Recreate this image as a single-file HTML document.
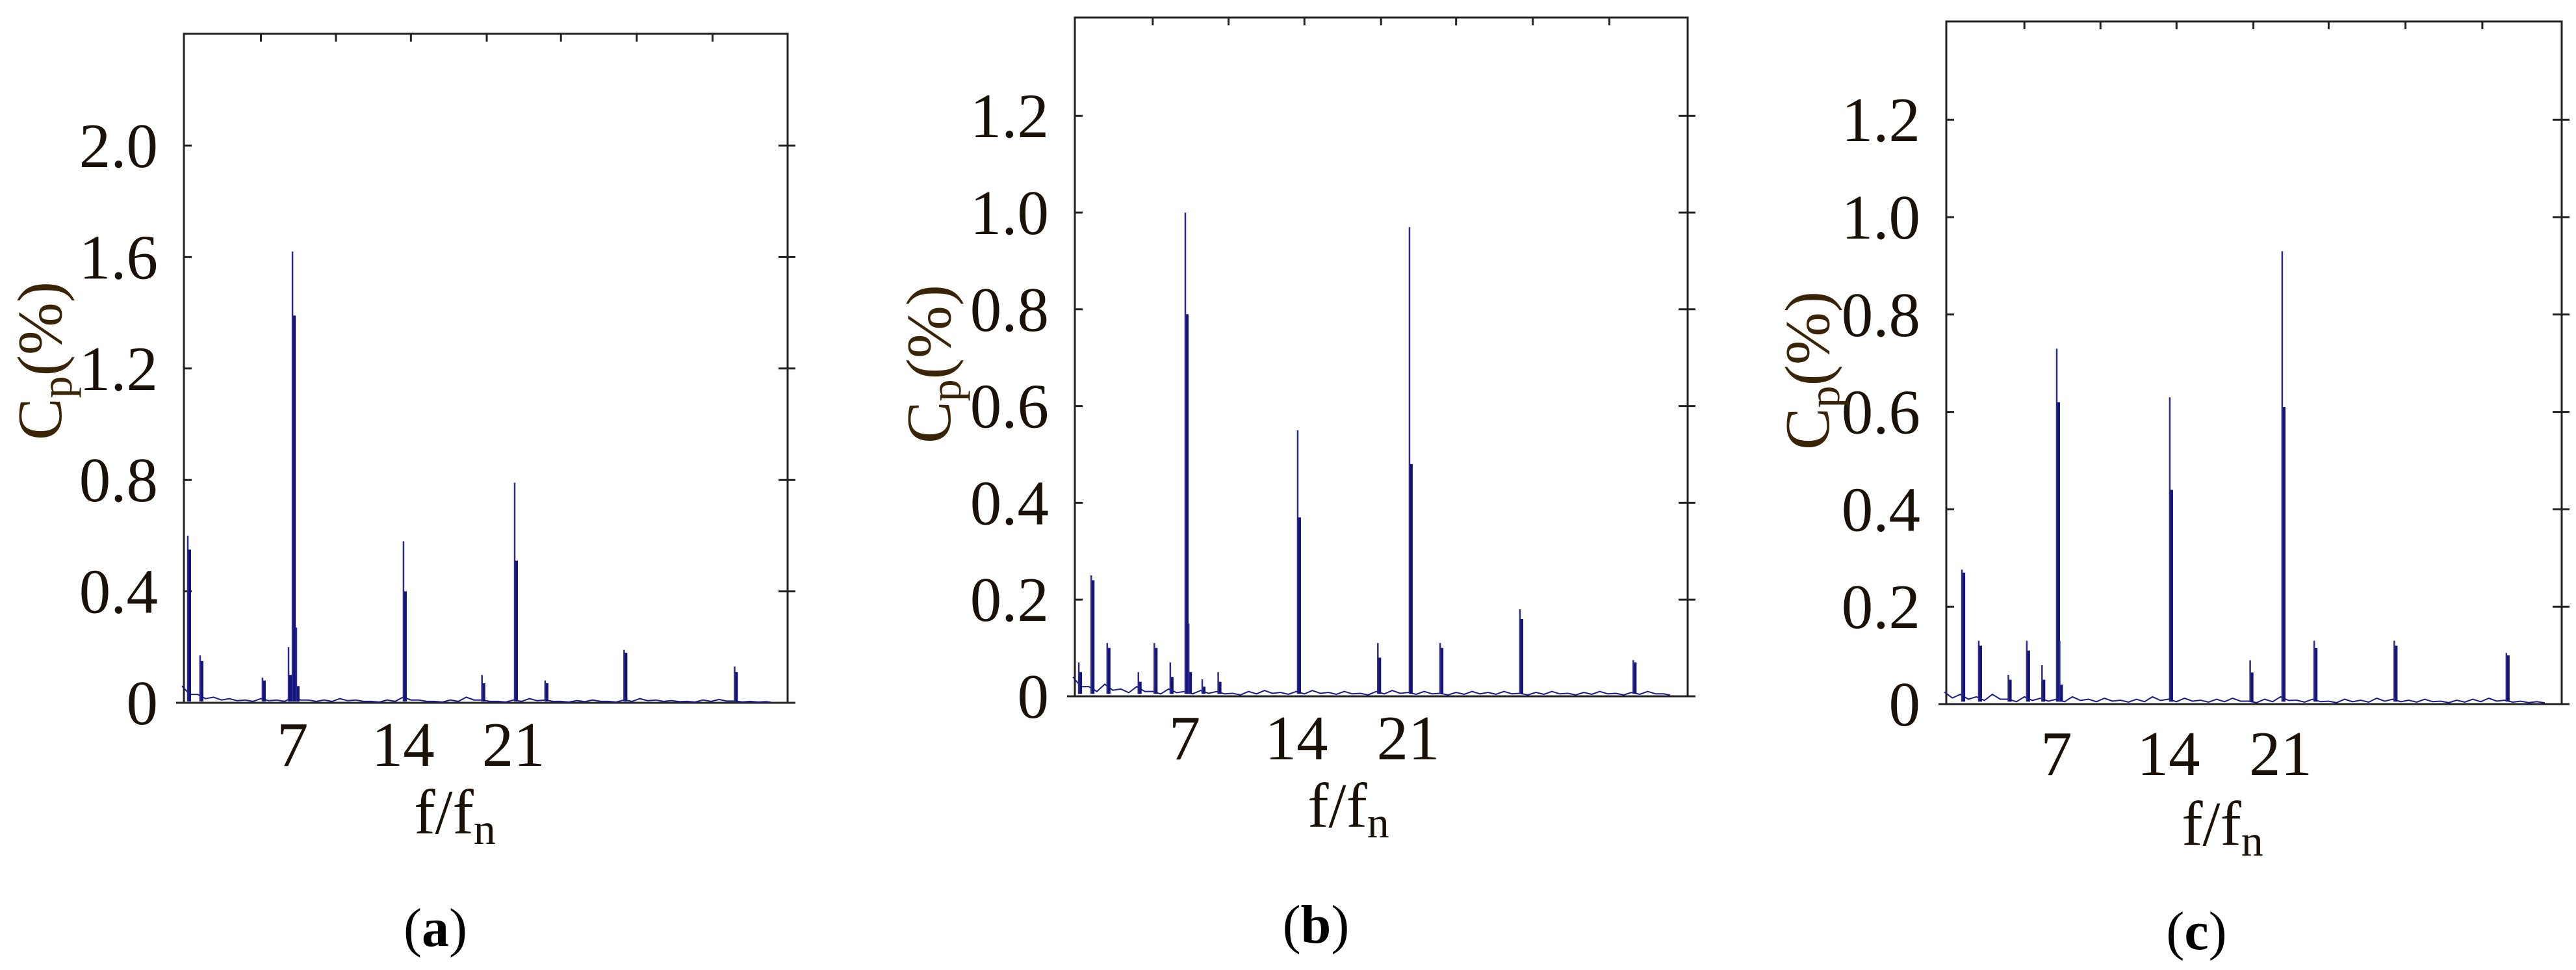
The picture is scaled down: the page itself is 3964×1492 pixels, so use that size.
<!DOCTYPE html>
<html><head><meta charset="utf-8"><style>
html,body{margin:0;padding:0;background:#fff;}
svg{display:block;}
text{font-family:"Liberation Serif",serif;fill:#1a1208;}
</style></head><body>
<svg id="fig" width="3964" height="1492" viewBox="0 0 3964 1492" xmlns="http://www.w3.org/2000/svg"></svg>
<script>
// ---- data ----
const peaksX_a = [0.37, 1.15, 5.1, 6.75, 7.0, 7.24, 14.03, 19.0, 21.07, 23.0, 28.0, 35.0];
const peaksY_a = [0.60, 0.17, 0.09, 0.20, 1.62, 0.27, 0.58, 0.10, 0.79, 0.08, 0.19, 0.13];
const peaks2_a = [0.55, 0.15, 0.08, 0.10, 1.39, 0.06, 0.40, 0.07, 0.51, 0.07, 0.18, 0.11];
const noise_a = [0.06,0.03,0.02,0.015,0.01,0.015,0.01,0.02,0.01,0.01,0.015,0.01,0.005,0.01,0.02,0.01,0.005,0.01,0.02,0.01,0.005,0.01,0.015,0.01,0.005,0.008,0.01,0.005,0.01,0.015,0.01,0.008,0.005,0.01,0.012,0.006,0.005,0.004];
const peaksX_b = [0.37, 1.15, 2.15, 4.1, 5.1, 6.1, 7.04, 7.25, 8.1, 9.1, 14.08, 19.1, 21.08, 23.0, 28.0, 35.1];
const peaksY_b = [0.07, 0.25, 0.11, 0.05, 0.11, 0.07, 1.00, 0.15, 0.035, 0.05, 0.55, 0.11, 0.97, 0.11, 0.18, 0.075];
const peaks2_b = [0.05, 0.24, 0.10, 0.03, 0.10, 0.04, 0.79, 0.05, 0.02, 0.03, 0.37, 0.08, 0.48, 0.10, 0.16, 0.07];
const noise_b = [0.04,0.02,0.025,0.015,0.02,0.01,0.015,0.01,0.012,0.01,0.006,0.01,0.012,0.008,0.01,0.012,0.008,0.01,0.006,0.01,0.012,0.008,0.01,0.006,0.008,0.01,0.008,0.01,0.006,0.008,0.01,0.006,0.008,0.01,0.006,0.008,0.01,0.005];
const peaksX_c = [1.1, 2.15, 4.0, 5.15, 6.1, 7.02, 7.2, 14.08, 19.1, 21.1, 23.1, 28.1, 35.1];
const peaksY_c = [0.276, 0.13, 0.06, 0.13, 0.08, 0.73, 0.13, 0.63, 0.09, 0.93, 0.13, 0.13, 0.105];
const peaks2_c = [0.27, 0.12, 0.05, 0.11, 0.05, 0.62, 0.04, 0.44, 0.065, 0.61, 0.115, 0.12, 0.10];
const noise_c = [0.025,0.02,0.015,0.02,0.01,0.015,0.012,0.01,0.015,0.01,0.012,0.008,0.01,0.015,0.01,0.012,0.008,0.01,0.012,0.006,0.01,0.015,0.008,0.01,0.006,0.01,0.008,0.012,0.01,0.008,0.01,0.006,0.008,0.01,0.012,0.008,0.006,0.005];
const yTicks_a = [0, 0.4, 0.8, 1.2, 1.6, 2.0];
const yTickLabels_a = ["0","0.4","0.8","1.2","1.6","2.0"];
const yTicks_bc = [0, 0.2, 0.4, 0.6, 0.8, 1.0, 1.2];
const yTickLabels_bc = ["0","0.2","0.4","0.6","0.8","1.0","1.2"];
const xTicks = [7, 14, 21];
const xTickLabels = ["7","14","21"];
const topTicks = [5, 9.75, 14.5, 19.3, 24, 28.8, 33.6];

const NS = "http://www.w3.org/2000/svg";
const svg = document.getElementById("fig");
function mk(tag, attrs, parent) {
  const e = document.createElementNS(NS, tag);
  for (const k in attrs) e.setAttribute(k, attrs[k]);
  (parent || svg).appendChild(e);
  return e;
}

const panels = [
  {id:"a", x0:280, sx:24.3, y0:1081, sy:428.5, top:52, left:283, right:1212, xEnd:37.3,
   px:peaksX_a, py:peaksY_a, p2:peaks2_a, noise:noise_a, yt:yTicks_a, ytl:yTickLabels_a,
   xlabY:1178, fY:1282, fX:700, capY:1455, capX:670, ylX:62, ylY:555},
  {id:"b", x0:1651, sx:24.57, y0:1071, sy:744, top:27, left:1654, right:2597, xEnd:37.4,
   px:peaksX_b, py:peaksY_b, p2:peaks2_b, noise:noise_b, yt:yTicks_bc, ytl:yTickLabels_bc,
   xlabY:1168, fY:1272, fX:2075, capY:1450, capX:2025, ylX:1430, ylY:560},
  {id:"c", x0:2992, sx:24.64, y0:1083, sy:749, top:33, left:2995, right:3942, xEnd:37.6,
   px:peaksX_c, py:peaksY_c, p2:peaks2_c, noise:noise_c, yt:yTicks_bc, ytl:yTickLabels_bc,
   xlabY:1192, fY:1300, fX:3420, capY:1460, capX:3380, ylX:2782, ylY:570}
];

panels.forEach(P => {
  const X = v => P.x0 + v * P.sx;
  const Y = v => P.y0 - v * P.sy;
  const g = mk("g", {});
  
  

  const frame = mk("path", {d:`M${P.left-12},${P.y0} H${P.right} M${P.left},${P.y0} V${P.top} H${P.right} V${P.y0}`, fill:"none", stroke:"#222", "stroke-width":3}, g);
  
  

  P.yt.forEach((v, i) => {
    const y = Y(v);
    const t = mk("path", {d:`M${P.left},${y} h12 M${P.right},${y} h-14 M${P.right},${y} h12`, stroke:"#222", "stroke-width":3}, g);
    
    
    const tx = mk("text", {x:P.left-40, y:y+33, "font-size":97, "text-anchor":"end"}, g);
    tx.textContent = P.ytl[i];
    
    
  });
  topTicks.forEach(v => {
    const t = mk("path", {d:`M${X(v)},${P.top} v12`, stroke:"#222", "stroke-width":3}, g);
    
    
  });
  xTicks.forEach((v, i) => {
    const tx = mk("text", {x:X(v), y:P.xlabY, "font-size":97, "text-anchor":"middle"}, g);
    tx.textContent = xTickLabels[i];
    
    
  });

  let d = "";
  P.noise.forEach((v, i) => {
    const xv = Math.min(i, P.xEnd);
    d += (i ? "L" : "M") + X(xv).toFixed(1) + "," + Y(v).toFixed(1) + " ";
    d += "L" + X(Math.min(i + 0.5, P.xEnd)).toFixed(1) + "," + Y(v * 0.5).toFixed(1) + " ";
  });
  const base = mk("path", {d:d, fill:"none", stroke:"#1b1b86", "stroke-width":2}, g);
  
  

  P.px.forEach((xv, i) => {
    const x = X(xv);
    const s1 = mk("line", {x1:x, y1:Y(0.005), x2:x, y2:Y(P.py[i]), stroke:"#2a2a90", "stroke-width":2.5}, g);
    
    
    const s2 = mk("line", {x1:x+3, y1:Y(0.005), x2:x+3, y2:Y(P.p2[i]), stroke:"#141478", "stroke-width":4}, g);
    
    
  });

  const yl = mk("text", {x:0, y:0, "font-size":97, "text-anchor":"middle", transform:`translate(${P.ylX + 32},${P.ylY}) rotate(-90)`, style:"fill:#3a2408"}, g);
  yl.innerHTML = 'C<tspan font-size="68" dy="16">p</tspan><tspan dy="-16">(%)</tspan>';
  
  

  const xl = mk("text", {x:P.fX, y:P.fY, "font-size":97, "text-anchor":"middle"}, g);
  xl.innerHTML = 'f/f<tspan font-size="68" dy="16">n</tspan>';
  
  

  const cap = mk("text", {x:P.capX, y:P.capY, "font-size":84, "text-anchor":"middle", style:"fill:#000"}, g);
  cap.innerHTML = '(<tspan font-weight="bold">' + P.id + '</tspan>)';
  
  
});
</script>
</body></html>
